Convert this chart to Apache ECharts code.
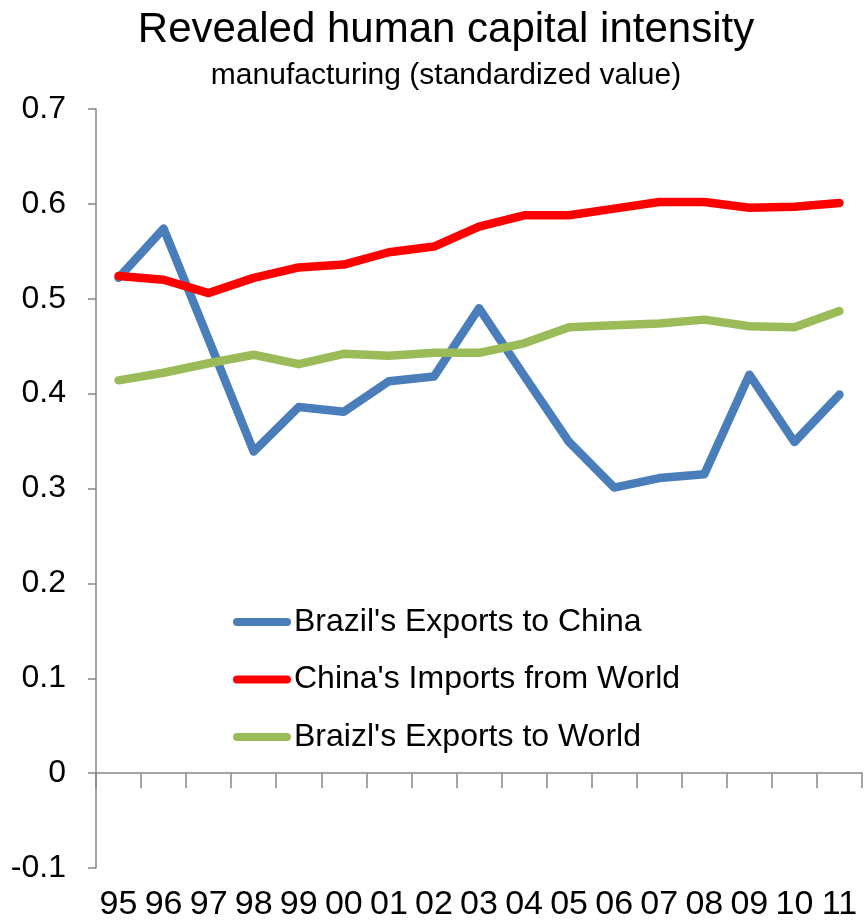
<!DOCTYPE html>
<html>
<head>
<meta charset="utf-8">
<script src="https://cdn.jsdelivr.net/npm/echarts@6/dist/echarts.min.js"></script>
<style>
  html, body { margin: 0; padding: 0; background: #ffffff; }
  #chart { width: 864px; height: 922px; }
</style>
</head>
<body>
<div id="chart"></div>
<script>
// Years (two-digit labels)
const years = ['95', '96', '97', '98', '99', '00', '01', '02', '03', '04', '05', '06', '07', '08', '09', '10', '11'];

// Revealed human capital intensity, standardized value
const brazilExportsToChina = [0.522, 0.574, 0.457, 0.339, 0.386, 0.381, 0.413, 0.418, 0.490, 0.419, 0.349, 0.301, 0.311, 0.315, 0.420, 0.349, 0.399];
const chinaImportsFromWorld = [0.524, 0.520, 0.506, 0.522, 0.533, 0.536, 0.549, 0.555, 0.576, 0.588, 0.588, 0.595, 0.602, 0.602, 0.596, 0.597, 0.601];
const brazilExportsToWorld = [0.414, 0.422, 0.432, 0.441, 0.431, 0.442, 0.440, 0.443, 0.443, 0.453, 0.470, 0.472, 0.474, 0.478, 0.471, 0.470, 0.487];

const seriesNames = ["Brazil's Exports to China", "China's Imports from World", "Braizl's Exports to World"];
const seriesColors = ['#4A7EBB', '#FF0000', '#9BBB59'];

const FONT = "'Liberation Sans', Arial, sans-serif";
const AXIS_GRAY = '#868686';

const chart = echarts.init(document.getElementById('chart'), null, { renderer: 'canvas' });

// Capsule-shaped legend key, like a thick line with round ends
const capsule = 'path://M4,0 H54 A4,4 0 0 1 54,8 H4 A4,4 0 0 1 4,0 Z';

function lineSeries(name, data, color) {
  return {
    name: name,
    type: 'line',
    xAxisIndex: 0,
    data: data,
    symbol: 'none',
    smooth: false,
    lineStyle: { color: color, width: 8.5, cap: 'round', join: 'round' },
    itemStyle: { color: color }
  };
}

chart.setOption({
  animation: false,
  backgroundColor: '#ffffff',
  title: [
    {
      text: 'Revealed human capital intensity',
      left: 441,
      top: 4,
      textAlign: 'center',
      textStyle: { fontFamily: FONT, fontSize: 42, fontWeight: 'normal', color: '#000000' }
    },
    {
      text: 'manufacturing (standardized value)',
      left: 441,
      top: 56,
      textAlign: 'center',
      textStyle: { fontFamily: FONT, fontSize: 30, fontWeight: 'normal', color: '#000000' }
    }
  ],
  legend: {
    orient: 'vertical',
    left: 233,
    top: 606,
    padding: 0,
    itemWidth: 58,
    itemHeight: 8,
    itemGap: 25.5,
    icon: capsule,
    data: seriesNames,
    textStyle: { fontFamily: FONT, fontSize: 32, color: '#000000', lineHeight: 32, padding: [0, 0, 0, -2] }
  },
  grid: { left: 96, right: 2, top: 109, bottom: 54, containLabel: false },
  xAxis: [
    {
      // axis line and ticks drawn along zero
      type: 'category',
      data: years,
      boundaryGap: true,
      position: 'bottom',
      axisLine: { show: true, onZero: true, lineStyle: { color: AXIS_GRAY, width: 1.5 } },
      axisTick: { show: true, inside: false, length: 15, interval: 0, lineStyle: { color: AXIS_GRAY, width: 1.5 } },
      axisLabel: { show: false },
      splitLine: { show: false }
    },
    {
      // year labels along the bottom of the plot
      type: 'category',
      data: years,
      boundaryGap: true,
      position: 'bottom',
      axisLine: { show: false, onZero: false },
      axisTick: { show: false },
      axisLabel: { show: true, interval: 0, margin: 20, fontFamily: FONT, fontSize: 34, color: '#000000' },
      splitLine: { show: false }
    }
  ],
  yAxis: {
    type: 'value',
    min: -0.1,
    max: 0.7,
    interval: 0.1,
    axisLine: { show: true, lineStyle: { color: AXIS_GRAY, width: 1.5 } },
    axisTick: { show: true, inside: false, length: 8, lineStyle: { color: AXIS_GRAY, width: 1.5 } },
    axisLabel: {
      margin: 30,
      fontFamily: FONT,
      fontSize: 32,
      color: '#000000',
      formatter: function (v) { return String(Math.round(v * 10) / 10); }
    },
    splitLine: { show: false }
  },
  series: [
    lineSeries(seriesNames[0], brazilExportsToChina, seriesColors[0]),
    lineSeries(seriesNames[1], chinaImportsFromWorld, seriesColors[1]),
    lineSeries(seriesNames[2], brazilExportsToWorld, seriesColors[2])
  ]
});
</script>
</body>
</html>
